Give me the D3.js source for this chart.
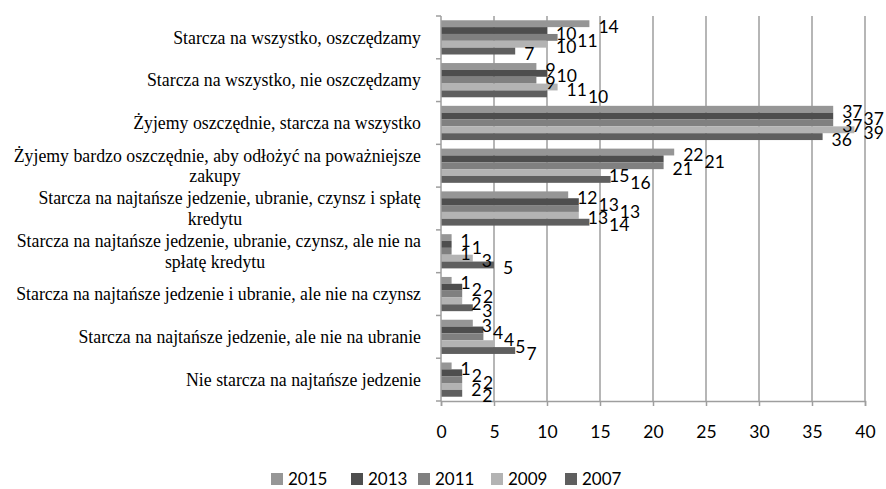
<!DOCTYPE html>
<html><head><meta charset="utf-8">
<script src="https://cdn.jsdelivr.net/npm/d3@7"></script>
<style>
html,body{margin:0;padding:0;background:#fff;}
svg{display:block;}
</style></head>
<body>
<script>
const categories = [
  "Starcza na wszystko, oszczędzamy",
  "Starcza na wszystko, nie oszczędzamy",
  "Żyjemy oszczędnie, starcza na wszystko",
  "Żyjemy bardzo oszczędnie, aby odłożyć na poważniejsze\nzakupy",
  "Starcza na najtańsze jedzenie, ubranie, czynsz i spłatę\nkredytu",
  "Starcza na najtańsze jedzenie, ubranie, czynsz, ale nie na\nspłatę kredytu",
  "Starcza na najtańsze jedzenie i ubranie, ale nie na czynsz",
  "Starcza na najtańsze jedzenie, ale nie na ubranie",
  "Nie starcza na najtańsze jedzenie"
];
const seriesNames = ["2015", "2013", "2011", "2009", "2007"];
const v2015 = [14, 9, 37, 22, 12, 1, 1, 3, 1];
const v2013 = [10, 10, 37, 21, 13, 1, 2, 4, 2];
const v2011 = [11, 9, 37, 21, 13, 1, 2, 4, 2];
const v2009 = [10, 11, 39, 15, 13, 3, 2, 5, 2];
const v2007 = [7, 10, 36, 16, 14, 5, 3, 7, 2];
const seriesValues = [v2015, v2013, v2011, v2009, v2007];
const xTicks = [0, 5, 10, 15, 20, 25, 30, 35, 40];
const colors = ["#969696", "#4e4e4e", "#808080", "#b3b3b3", "#5f5f5f"];

(function () {
const W = 886, H = 489;
const pL = 441, pR = 865, pT = 16, pB = 401;
const sansFont = "Lato, 'Open Sans', sans-serif";

const svg = d3.select("body").append("svg").attr("width", W).attr("height", H);

const x = d3.scaleLinear().domain([0, 40]).range([pL, pR]);
const y = d3.scaleBand().domain(d3.range(categories.length)).range([pT, pB])
  .paddingInner(0.2).paddingOuter(0.1);
const yInner = d3.scaleBand().domain(d3.range(seriesNames.length)).range([0, y.bandwidth()]);

// gridlines
svg.append("g").selectAll("line").data(xTicks.slice(1)).join("line")
  .attr("x1", d => x(d)).attr("x2", d => x(d))
  .attr("y1", pT).attr("y2", pB)
  .attr("stroke", "#9e9e9e").attr("stroke-width", 1.5);

// bars
const groups = svg.append("g").selectAll("g").data(categories).join("g")
  .attr("transform", (d, i) => `translate(0,${y(i)})`);
groups.selectAll("rect").data((d, i) => seriesValues.map((s, j) => ({ v: s[i], j })))
  .join("rect")
  .attr("x", x(0))
  .attr("y", d => yInner(d.j))
  .attr("width", d => x(d.v) - x(0))
  .attr("height", yInner.bandwidth())
  .attr("fill", d => colors[d.j]);

// axes
const xAxis = d3.axisBottom(x).tickValues(xTicks).tickSize(5).tickFormat(d3.format("d"));
const gx = svg.append("g").attr("transform", `translate(0,${pB})`).call(xAxis);
gx.select(".domain").attr("stroke", "#9e9e9e").attr("stroke-width", 1.5);
gx.selectAll(".tick line").attr("stroke", "#9e9e9e").attr("stroke-width", 1.5);
gx.selectAll("text").attr("y", 31).attr("dy", "0.35em")
  .attr("font-family", sansFont).attr("font-size", 17.5).attr("fill", "#000");

const yBounds = d3.range(categories.length + 1).map(i => pT + i * y.step());
const gy = svg.append("g");
gy.append("line").attr("x1", pL).attr("x2", pL).attr("y1", pT).attr("y2", pB)
  .attr("stroke", "#9e9e9e").attr("stroke-width", 1.5);
gy.selectAll("line.t").data(yBounds).join("line").attr("class", "t")
  .attr("x1", pL - 5).attr("x2", pL).attr("y1", d => d).attr("y2", d => d)
  .attr("stroke", "#9e9e9e").attr("stroke-width", 1.5);

// category labels
const labelRight = 421, contCenter = 215, lineH = 20.5;
categories.forEach((c, i) => {
  const lines = c.split("\n");
  const cy = y(i) + y.bandwidth() / 2;
  const y0 = cy - (lines.length - 1) * lineH / 2;
  lines.forEach((ln, k) => {
    svg.append("text")
      .attr("x", k === 0 ? labelRight : contCenter)
      .attr("y", y0 + k * lineH)
      .attr("dy", "0.35em")
      .attr("text-anchor", k === 0 ? "end" : "middle")
      .attr("font-family", "'Liberation Serif', 'Times New Roman', serif")
      .attr("font-size", 17.8)
      .attr("fill", "#000")
      .text(ln);
  });
});

// data labels with greedy collision avoidance
const lblG = svg.append("g").attr("font-family", sansFont).attr("font-size", 17.5).attr("fill", "#000");
categories.forEach((c, i) => {
  const boxes = [];
  seriesValues.forEach((s, j) => {
    const t = lblG.append("text").text(s[i]);
    const w = t.node().getComputedTextLength();
    const cy = y(i) + yInner(j) + yInner.bandwidth() / 2 + 3;
    let lx = x(s[i]) + 9;
    let moved = true;
    while (moved) {
      moved = false;
      for (const b of boxes) {
        if (Math.abs(b.cy - cy) < 12.5 && lx < b.x + b.w + 1 && lx + w > b.x) {
          lx = b.x + b.w + 1; moved = true;
        }
      }
    }
    boxes.push({ x: lx, w, cy });
    t.attr("x", lx).attr("y", cy).attr("dy", "0.35em");
  });
});

// legend
const legX = [271, 351, 418, 491, 565];
const leg = svg.append("g");
seriesNames.forEach((n, j) => {
  leg.append("rect").attr("x", legX[j]).attr("y", 473).attr("width", 12).attr("height", 12).attr("fill", colors[j]);
  leg.append("text").attr("x", legX[j] + 17).attr("y", 479).attr("dy", "0.35em")
    .attr("font-family", sansFont).attr("font-size", 17).attr("fill", "#000").text(n);
});
})();
</script>
</body></html>
